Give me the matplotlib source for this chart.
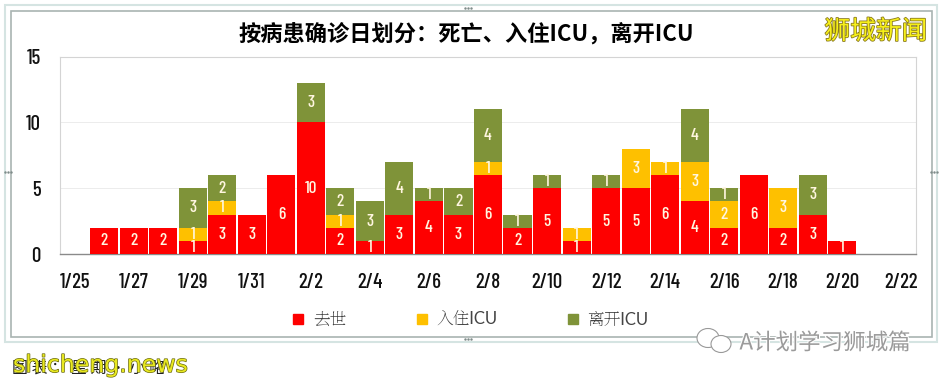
import logging
import matplotlib
matplotlib.use("Agg")
from matplotlib import pyplot as plt
import matplotlib.patches as patches
import matplotlib.patheffects as pe
import numpy as np

logging.getLogger('matplotlib.font_manager').setLevel(logging.ERROR)

cjk = ['Noto Sans CJK SC', 'DejaVu Sans']
narrow = ['Barlow Condensed', 'Roboto', 'DejaVu Sans']
legend_font = ['Lato', 'Noto Serif SC', 'Noto Sans CJK SC']
plt.rcParams['font.family'] = cjk

dates = ['1/25', '1/26', '1/27', '1/28', '1/29', '1/30', '1/31', '2/1', '2/2', '2/3',
         '2/4', '2/5', '2/6', '2/7', '2/8', '2/9', '2/10', '2/11', '2/12', '2/13',
         '2/14', '2/15', '2/16', '2/17', '2/18', '2/19', '2/20', '2/21', '2/22']
died = [0, 2, 2, 2, 1, 3, 3, 6, 10, 2, 1, 3, 4, 3, 6, 2, 5, 1, 5, 5, 6, 4, 2, 6, 2, 3, 1, 0, 0]
icu_in = [0, 0, 0, 0, 1, 1, 0, 0, 0, 1, 0, 0, 0, 0, 1, 0, 0, 1, 0, 3, 1, 3, 2, 0, 3, 0, 0, 0, 0]
icu_out = [0, 0, 0, 0, 3, 2, 0, 0, 3, 2, 3, 4, 1, 2, 4, 1, 1, 0, 1, 0, 0, 4, 1, 0, 0, 3, 0, 0, 0]
names = ['去世', '入住ICU', '离开ICU']
colors = ['#fe0000', '#fec000', '#7f9339']
yticks = [0, 5, 10, 15]

W, H = 943, 384
fig = plt.figure(figsize=(W / 100, H / 100), dpi=100, facecolor='white')

# frames around the chart, in pixels
bg = fig.add_axes([0, 0, 1, 1])
bg.set_xlim(0, W)
bg.set_ylim(H, 0)
bg.axis('off')
bg.add_patch(patches.Rectangle((5, 5), 932, 337, fc='none', ec='#d5e4e2', lw=1.5))
bg.add_patch(patches.Rectangle((11, 11), 921, 326, fc='white', ec='#a9b4b2', lw=1.2))
for px, py in [(468, 8), (468, 339), (8, 172), (934, 172)]:
    bg.plot([px - 3, px, px + 3], [py, py, py], ls='none', marker='.', ms=1.5, color='#7f8c8a')

x0, x1, y0, y1 = 60, 916, 254, 56.5
ax = fig.add_axes([x0 / W, 1 - y0 / H, (x1 - x0) / W, (y0 - y1) / H])
x = np.arange(len(dates))
bottom = np.zeros(len(dates))
for vals, col in zip([died, icu_in, icu_out], colors):
    vals = np.array(vals)
    ax.bar(x, vals, width=0.95, bottom=bottom, color=col, lw=0, zorder=3)
    for xi, v, b in zip(x, vals, bottom):
        if v > 0:
            ax.text(xi, b + v / 2, str(v), ha='center', va='center', color='#fff6e0',
                    family=narrow, fontsize=12.5, fontweight='medium', zorder=4)
    bottom += vals

ax.set_xlim(-0.5, len(dates) - 0.5)
ax.set_ylim(0, 15)
ax.set_yticks(yticks)
ax.set_xticks(x[::2])
ax.set_xticklabels(dates[::2])
ax.tick_params(length=0, labelsize=15, labelcolor='#111111')
ax.tick_params(axis='x', pad=14)
ax.tick_params(axis='y', pad=14)
for lab in ax.get_xticklabels() + ax.get_yticklabels():
    lab.set_family(narrow)
    lab.set_fontweight('medium')
ax.grid(axis='y', color='#ececec', lw=0.7, zorder=0)
for side in ['top', 'left', 'right']:
    ax.spines[side].set_color('#d4d4d4')
    ax.spines[side].set_linewidth(0.8)
ax.spines['bottom'].set_color('#8a8a8a')
ax.spines['bottom'].set_linewidth(1)

# title and legend placed by hand
fig.text(466 / W, 1 - 34 / H, '按病患确诊日划分：死亡、入住ICU，离开ICU', ha='center', va='center',
         fontsize=16, fontweight='bold', color='black')
handles = [patches.Patch(color=c) for c in colors]
fig.legend(handles, names, loc='center', bbox_to_anchor=(471 / W, 1 - 320 / H), ncol=3, frameon=False,
           prop={'family': legend_font, 'size': 12}, handlelength=0.6, handleheight=0.6,
           columnspacing=4.2, handletextpad=0.6, labelcolor='#444444')

# watermarks and caption
fig.text(876 / W, 1 - 32 / H, '狮城新闻', ha='center', va='center', fontsize=18.5, color='#f7f01a',
         path_effects=[pe.withStroke(linewidth=1.2, foreground='#8a7a20')])
fig.text(825 / W, 1 - 343 / H, 'A计划学习狮城篇', ha='center', va='center', fontsize=16.2, color='#9a9a9a',
         path_effects=[pe.withStroke(linewidth=1.5, foreground='white')])
bg.add_patch(patches.Ellipse((708, 338), 22, 19, fc='white', ec='#999999', lw=0.8, zorder=5))
bg.add_patch(patches.Ellipse((721, 344), 20, 17, fc='white', ec='#999999', lw=0.8, zorder=5))
fig.text(12 / W, 1 - 368 / H, '图 表 ： 星 期 • 小 略', ha='left', va='center', fontsize=11.5, color='#222222')
fig.text(13 / W, 1 - 365 / H, 'shicheng.news', ha='left', va='center', fontsize=17, color='#e8e820',
         family='DejaVu Sans', path_effects=[pe.withStroke(linewidth=1, foreground='#6a6a10')])

fig.savefig('out.png', dpi=100)
